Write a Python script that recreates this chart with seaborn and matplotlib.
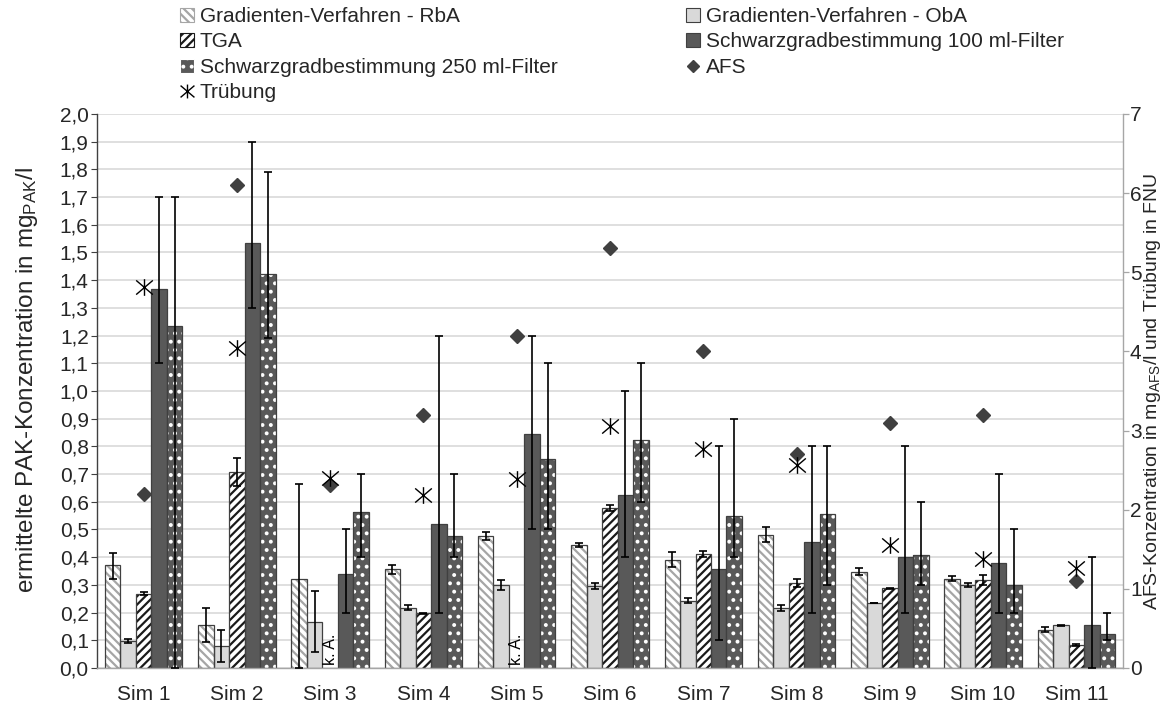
import numpy as np
import pandas as pd
import matplotlib
matplotlib.use("Agg")
import matplotlib.pyplot as plt
import seaborn as sns
from matplotlib.patches import Patch, Rectangle
from matplotlib.lines import Line2D
from matplotlib.path import Path
from matplotlib.ticker import FuncFormatter

# ---------------------------------------------------------------- data
sims = ["Sim 1", "Sim 2", "Sim 3", "Sim 4", "Sim 5", "Sim 6",
        "Sim 7", "Sim 8", "Sim 9", "Sim 10", "Sim 11"]

methods = ["Gradienten-Verfahren - RbA", "Gradienten-Verfahren - ObA", "TGA",
           "Schwarzgradbestimmung 100 ml-Filter",
           "Schwarzgradbestimmung 250 ml-Filter"]

# PAK concentration in mg/l (NaN = keine Angabe)
rba = [0.370, 0.154, 0.320, 0.356, 0.477, 0.444, 0.391, 0.481, 0.347, 0.323, 0.138]
oba = [0.097, 0.080, 0.167, 0.218, 0.300, 0.296, 0.243, 0.216, 0.236, 0.300, 0.154]
tga = [0.268, 0.706, np.nan, 0.198, np.nan, 0.579, 0.411, 0.307, 0.287, 0.318, 0.082]
sg100 = [1.367, 1.533, 0.340, 0.520, 0.845, 0.623, 0.356, 0.456, 0.400, 0.378, 0.156]
sg250 = [1.233, 1.423, 0.563, 0.477, 0.756, 0.823, 0.549, 0.556, 0.409, 0.300, 0.122]

# lower / upper end of the error bars
rba_lo = [0.323, 0.092, 0.000, 0.339, 0.462, 0.437, 0.363, 0.454, 0.334, 0.313, 0.129]
rba_hi = [0.415, 0.216, 0.663, 0.373, 0.490, 0.451, 0.419, 0.508, 0.360, 0.333, 0.147]
oba_lo = [0.089, 0.023, 0.056, 0.210, 0.283, 0.286, 0.233, 0.206, 0.236, 0.292, 0.152]
oba_hi = [0.105, 0.136, 0.277, 0.226, 0.317, 0.306, 0.253, 0.226, 0.236, 0.308, 0.156]
tga_lo = [0.263, 0.656, np.nan, 0.196, np.nan, 0.568, 0.401, 0.294, 0.284, 0.301, 0.079]
tga_hi = [0.273, 0.757, np.nan, 0.200, np.nan, 0.590, 0.421, 0.320, 0.290, 0.335, 0.085]
sg100_lo = [1.10, 1.30, 0.20, 0.20, 0.50, 0.40, 0.10, 0.20, 0.20, 0.20, 0.00]
sg100_hi = [1.70, 1.90, 0.50, 1.20, 1.20, 1.00, 0.80, 0.80, 0.80, 0.70, 0.40]
sg250_lo = [0.00, 1.19, 0.40, 0.40, 0.50, 0.60, 0.40, 0.30, 0.30, 0.20, 0.10]
sg250_hi = [1.70, 1.79, 0.70, 0.70, 1.10, 1.10, 0.90, 0.80, 0.60, 0.50, 0.20]

# AFS in mg/l and turbidity in FNU (right axis)
afs = [2.20, 6.10, 2.31, 3.20, 4.20, 5.31, 4.00, 2.71, 3.10, 3.20, 1.10]
truebung = [4.81, 4.04, 2.40, 2.19, 2.39, 3.06, 2.77, 2.57, 1.55, 1.38, 1.26]

series = [rba, oba, tga, sg100, sg250]
lows = [rba_lo, oba_lo, tga_lo, sg100_lo, sg250_lo]
highs = [rba_hi, oba_hi, tga_hi, sg100_hi, sg250_hi]

# ---------------------------------------------------------------- styling
EDGE = "#404040"
styles = [
    dict(face="white", hatch="\\\\\\\\", hatchcolor="#a6a6a6"),
    dict(face="#d9d9d9", hatch=None, hatchcolor=None),
    dict(face="white", hatch="////", hatchcolor="#1a1a1a"),
    dict(face="#595959", hatch=None, hatchcolor=None),
    dict(face="#595959", hatch="..", hatchcolor="white"),
]

# "X" with a vertical stroke, used for the turbidity marker
star_marker = Path([(-1, -0.85), (1, 0.85), (-1, 0.85), (1, -0.85), (0, -1), (0, 1)],
                   [Path.MOVETO, Path.LINETO, Path.MOVETO, Path.LINETO,
                    Path.MOVETO, Path.LINETO])

sns.set_theme(style="white")
plt.rcParams["font.family"] = ["Liberation Sans", "DejaVu Sans"]
plt.rcParams["mathtext.fontset"] = "custom"
plt.rcParams["mathtext.rm"] = "Liberation Sans"
plt.rcParams["mathtext.it"] = "Liberation Sans:italic"
plt.rcParams["mathtext.bf"] = "Liberation Sans:bold"
plt.rcParams["hatch.linewidth"] = 1.6

FS = 15

fig = plt.figure(figsize=(11.66, 7.11), dpi=100)
ax = fig.add_axes([0.0832, 0.0605, 0.9631 - 0.0832, 0.8397 - 0.0605])

rows = []
for m, vals in zip(methods, series):
    for s, v in zip(sims, vals):
        rows.append({"sim": s, "method": m, "value": 0.0 if np.isnan(v) else v})
df = pd.DataFrame(rows)

palette = {m: st["face"] for m, st in zip(methods, styles)}
sns.barplot(data=df, x="sim", y="value", hue="method", order=sims,
            hue_order=methods, palette=palette, saturation=1, width=0.83,
            errorbar=None, edgecolor=EDGE, linewidth=0.9, legend=False, ax=ax)

ax.set_ylim(0, 2.0)
ax.set_xlim(-0.5, len(sims) - 0.5)

for cont, st, vals, lo, hi in zip(ax.containers, styles, series, lows, highs):
    xs, ys, elo, ehi = [], [], [], []
    for bar, v, l, h in zip(cont.patches, vals, lo, hi):
        xc = bar.get_x() + bar.get_width() / 2
        if np.isnan(v):
            bar.set_visible(False)
            ax.text(xc, 0.012, "k. A.", rotation=90, ha="center", va="bottom",
                    fontsize=11.5, color="black")
            continue
        if st["hatch"]:
            bar.set_hatch(st["hatch"])
            bar.set_edgecolor(st["hatchcolor"])
            bar.set_linewidth(0)
            ax.add_patch(Rectangle(bar.get_xy(), bar.get_width(), bar.get_height(),
                                   fill=False, edgecolor=EDGE, linewidth=0.9,
                                   zorder=bar.get_zorder() + 0.1))
        xs.append(xc)
        ys.append(v)
        elo.append(v - l)
        ehi.append(h - v)
    ax.errorbar(xs, ys, yerr=[elo, ehi], fmt="none", ecolor="black",
                elinewidth=1.2, capsize=3.2, capthick=1.2, zorder=6)

# grid & axes
ax.set_yticks(np.round(np.arange(0, 2.001, 0.1), 1))
ax.yaxis.set_major_formatter(FuncFormatter(lambda v, p: f"{v:.1f}".replace(".", ",")))
ax.yaxis.grid(True, color="#d9d9d9", linewidth=1.2)
ax.xaxis.grid(False)
ax.set_axisbelow(True)
for side in ["top", "right"]:
    ax.spines[side].set_visible(False)
ax.spines["left"].set_color("#404040")
ax.spines["left"].set_linewidth(1.0)
ax.spines["bottom"].set_color("#a6a6a6")
ax.spines["bottom"].set_linewidth(1.0)
ax.tick_params(axis="y", which="major", left=True, direction="out", length=4,
               width=0.8, color="#404040", labelsize=FS, pad=2)
ax.tick_params(axis="x", length=0, labelsize=FS, pad=12)
ax.set_xlabel("")
ax.set_ylabel("ermittelte PAK-Konzentration in mg$_{\\mathrm{PAK}}$/l", fontsize=17.5)
ax.yaxis.set_label_coords(-0.0555, 0.52)

# right axis: AFS and turbidity
ax2 = ax.twinx()
ax2.set_ylim(0, 7)
ax2.set_yticks(range(0, 8))
pos = np.arange(len(sims))
ax2.plot(pos, afs, linestyle="none", marker="D", markersize=7.5,
         color="#404040", zorder=7)
ax2.plot(pos, truebung, linestyle="none", marker=star_marker, markersize=12,
         markeredgewidth=1.0, markeredgecolor="black", markerfacecolor="none",
         zorder=7)
ax2.grid(False)
for side in ["top", "left", "bottom"]:
    ax2.spines[side].set_visible(False)
ax2.spines["right"].set_color("#a6a6a6")
ax2.spines["right"].set_linewidth(1.0)
ax2.tick_params(axis="y", right=True, direction="out", length=4, width=0.9,
                color="#a6a6a6", labelsize=FS, pad=1)
ax2.set_ylabel("AFS-Konzentration in mg$_{\\mathrm{AFS}}$/l und Trübung in FNU",
               fontsize=14)
ax2.yaxis.set_label_coords(1.0186, 0.5)

# legend (two columns)
handles = [
    Patch(facecolor="white", edgecolor="#a6a6a6", hatch="\\\\\\\\", linewidth=0.8),
    Patch(facecolor="#d9d9d9", edgecolor=EDGE, linewidth=0.8),
    Patch(facecolor="white", edgecolor="#1a1a1a", hatch="////", linewidth=0.8),
    Patch(facecolor="#595959", edgecolor=EDGE, linewidth=0.8),
    Patch(facecolor="#595959", edgecolor="white", hatch="..", linewidth=0.8),
    Line2D([], [], linestyle="none", marker="D", markersize=6.5, color="#404040"),
    Line2D([], [], linestyle="none", marker=star_marker, markersize=10,
           markeredgewidth=1.0, markeredgecolor="black", markerfacecolor="none"),
]
labels = methods + ["AFS", "Trübung"]
col1 = [0, 2, 4, 6]
col2 = [1, 3, 5]
common = dict(loc="upper left", frameon=False, fontsize=FS, borderpad=0,
              borderaxespad=0, handlelength=0.65, handleheight=0.65,
              handletextpad=0.3, labelspacing=0.31)
fig.legend([handles[i] for i in col1], [labels[i] for i in col1],
           bbox_to_anchor=(180 / 1166, 1 - 7 / 711), **common)
fig.legend([handles[i] for i in col2], [labels[i] for i in col2],
           bbox_to_anchor=(686 / 1166, 1 - 7 / 711), **common)

fig.savefig("out.png", dpi=100)
